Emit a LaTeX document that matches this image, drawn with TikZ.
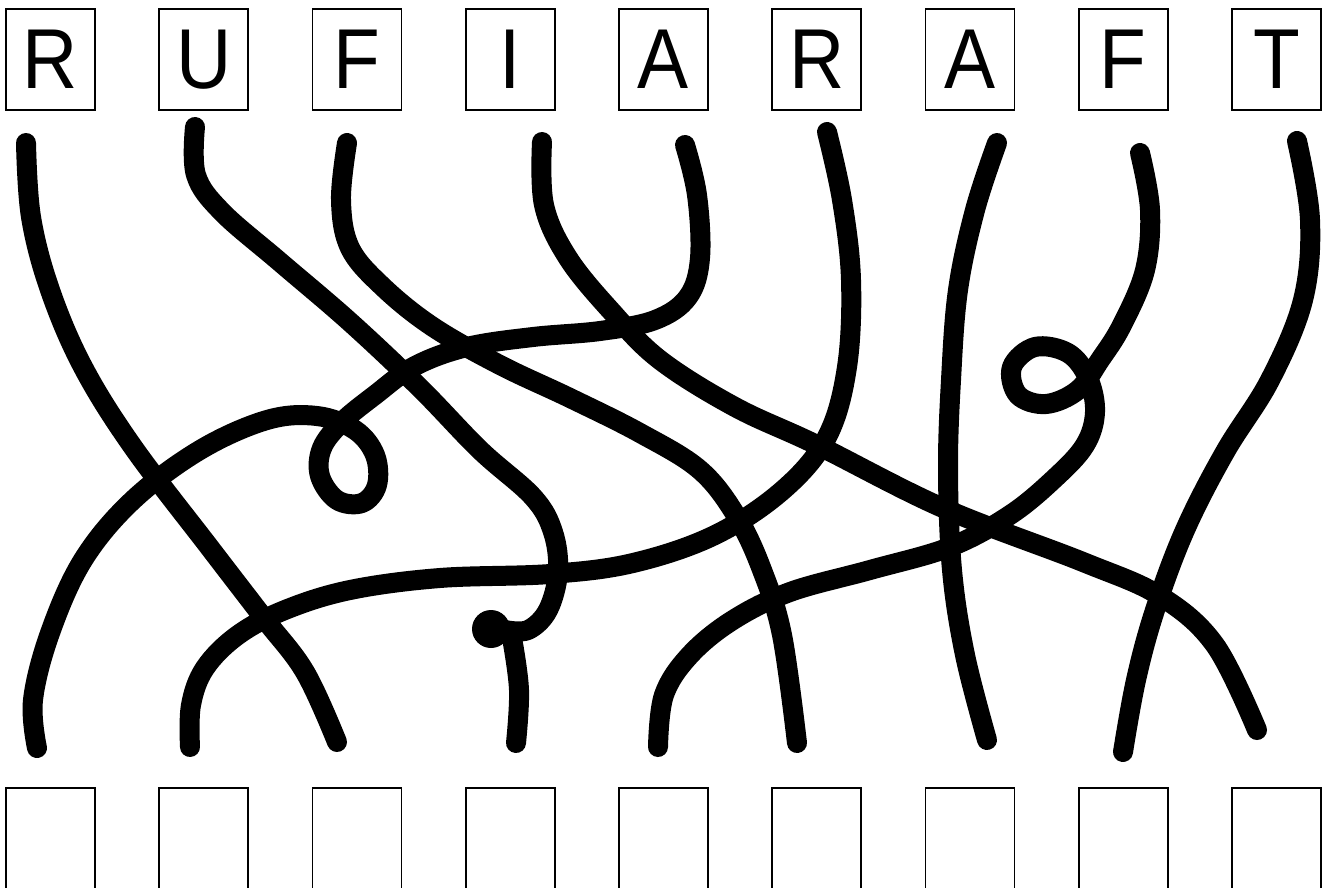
\documentclass[tikz,border=0pt]{standalone}
\usepackage{fontspec}
\newfontfamily\letterfont[FakeStretch=0.9]{Liberation Sans}
\usepackage{tikz}
\tikzset{>=latex}
\usetikzlibrary{
    positioning, % relative placement of the boxes
    calc
}

\begin{document}
\begin{tikzpicture}[
    x=1pt, y=-1pt,
    letterbox/.style={
        draw=black,
        line width=1.6pt,
        minimum width=89pt,
        minimum height=101pt,
        inner sep=0pt,
        outer sep=0pt,
        font=\letterfont\fontsize{85}{85}\selectfont
    },
    slotbox/.style={
        letterbox
    },
    rope/.style={
        draw=black,
        line width=20pt,
        line cap=round,
        line join=round
    }
]
\useasboundingbox (0,0) rectangle (1333,888);

% Letters on top
\node[letterbox] (top1) at (50.5,59.5) {R};
\node[letterbox, right=64.25pt of top1] (top2) {U};
\node[letterbox, right=64.25pt of top2] (top3) {F};
\node[letterbox, right=64.25pt of top3] (top4) {I};
\node[letterbox, right=64.25pt of top4] (top5) {A};
\node[letterbox, right=64.25pt of top5] (top6) {R};
\node[letterbox, right=64.25pt of top6] (top7) {A};
\node[letterbox, right=64.25pt of top7] (top8) {F};
\node[letterbox, right=64.25pt of top8] (top9) {T};

% Empty slots below
\node[slotbox, below=678pt of top1] (slot1) {};
\node[slotbox, right=64.25pt of slot1] (slot2) {};
\node[slotbox, right=64.25pt of slot2] (slot3) {};
\node[slotbox, right=64.25pt of slot3] (slot4) {};
\node[slotbox, right=64.25pt of slot4] (slot5) {};
\node[slotbox, right=64.25pt of slot5] (slot6) {};
\node[slotbox, right=64.25pt of slot6] (slot7) {};
\node[slotbox, right=64.25pt of slot7] (slot8) {};
\node[slotbox, right=64.25pt of slot8] (slot9) {};

% R to slot 3
\draw[rope] plot[smooth, tension=0.6] coordinates {(26,143) (31,217) (50,290) (83,367) (133,447) (210,548) (263,617) (305,672) (337,742)};

% U to slot 4, with the knot
\draw[rope] plot[smooth, tension=0.6] coordinates {(195,127) (196,175) (222,212) (280,262) (350,322) (420,388) (480,450) (533,497) (553,532) (558,572) (548,610) (528,630) (505,630)};
\fill (491,629) ellipse [x radius=19pt, y radius=19pt];
\draw[rope] plot[smooth, tension=0.6] coordinates {(512,638) (519,690) (516,743)};

% F to slot 6
\draw[rope] plot[smooth, tension=0.6] coordinates {(347,143) (341,200) (350,248) (383,287) (433,327) (500,365) (570,398) (640,433) (700,470) (737,517) (762,570) (782,635) (797,743)};

% I to slot 9
\draw[rope] plot[smooth, tension=0.6] coordinates {(542,142) (544,205) (568,258) (612,312) (660,360) (735,407) (817,445) (943,508) (1083,562) (1160,596) (1215,645) (1257,730)};

% A to slot 1, with a loop
\draw[rope] plot[smooth, tension=0.6] coordinates {(685,145) (697,195) (700,258) (688,297) (655,320) (600,331) (533,337) (467,347) (415,366) (375,395) (342,422) (322,448) (320,476) (337,500) (362,503) (377,485) (375,455) (355,430) (317,416) (267,420) (200,450) (133,500) (83,560) (50,633) (33,700) (37,748)};

% R to slot 2
\draw[rope] plot[smooth, tension=0.6] coordinates {(827,132) (842,200) (851,280) (847,367) (827,437) (783,490) (715,535) (633,563) (550,574) (440,578) (350,590) (285,610) (238,635) (205,668) (191,705) (190,747)};

% A to slot 7
\draw[rope] plot[smooth, tension=0.6] coordinates {(997,143) (975,210) (958,290) (951,380) (948,470) (952,570) (965,655) (987,740)};

% F to slot 5, with a loop
\draw[rope] plot[smooth, tension=0.6] coordinates {(1140,153) (1150,210) (1145,270) (1122,325) (1100,360) (1078,390) (1046,404) (1018,395) (1012,367) (1035,347) (1068,353) (1088,378) (1095,412) (1085,445) (1055,478) (1010,515) (950,547) (870,570) (790,592) (733,620) (690,655) (664,695) (658,747)};

% T to slot 8
\draw[rope] plot[smooth, tension=0.6] coordinates {(1297,141) (1310,220) (1303,300) (1270,380) (1225,452) (1185,530) (1155,610) (1136,680) (1123,752)};

\end{tikzpicture}
\end{document}
